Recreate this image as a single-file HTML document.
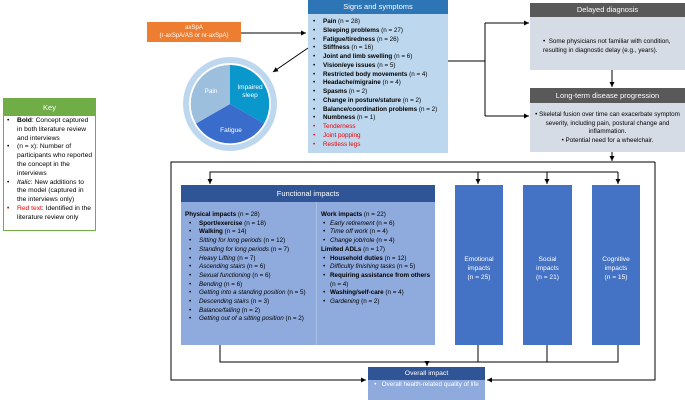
<!DOCTYPE html>
<html><head><meta charset="utf-8"><style>
*{margin:0;padding:0;box-sizing:border-box}
body{width:685px;height:400px;position:relative;background:#fff;font-family:"Liberation Sans",sans-serif;overflow:hidden;color:#000}
.a{position:absolute}
.hd{color:#fff;text-align:center;font-size:7.5px}
ul{list-style:none}
li{position:relative;padding-left:12px}
li:before{content:"•";position:absolute;left:2px}
.r{color:#e00}
.t{font-size:6.3px;line-height:8.75px}
</style></head><body>
<svg class="a" style="left:0;top:0" width="685" height="400">
<defs><marker id="m" markerWidth="6" markerHeight="6" refX="5" refY="3" orient="auto" markerUnits="userSpaceOnUse"><path d="M0,0.5L5,3L0,5.5z" fill="#000"/></marker></defs>
<g stroke="#000" stroke-width="1" fill="none">
<path d="M241,33H306" marker-end="url(#m)"/>
<path d="M308,48L273,72" marker-end="url(#m)"/>
<path d="M448,61H485"/>
<path d="M485,23V116"/>
<path d="M485,23H529" marker-end="url(#m)"/>
<path d="M485,116H529" marker-end="url(#m)"/>
<path d="M612,70V87" marker-end="url(#m)"/>
<path d="M612,152V161" marker-end="url(#m)"/>
<path d="M655,162H171V380H366" marker-end="url(#m)"/>
<path d="M655,162V380H487" marker-end="url(#m)"/>
<path d="M618,172H210V184" marker-end="url(#m)"/>
<path d="M478,172V184" marker-end="url(#m)"/>
<path d="M547,172V184" marker-end="url(#m)"/>
<path d="M618,172V184" marker-end="url(#m)"/>
<path d="M220,345V362H618V345"/>
<path d="M478,345V362M547,345V362"/>
<path d="M427,362V366" marker-end="url(#m)"/>
</g>
<circle cx="230" cy="104" r="47" fill="#bdd7ee"/>
<circle cx="230" cy="104" r="41" fill="#fff"/>
<path d="M230,104L230,65A39,39 0 0 1 264,123.5Z" fill="#0a97cc"/>
<path d="M230,104L264,123.5A39,39 0 0 1 196,123.5Z" fill="#3a6ccc"/>
<path d="M230,104L196,123.5A39,39 0 0 1 230,65Z" fill="#9dbfde"/>
<text x="211" y="93" fill="#fff" font-size="6.5" font-family="Liberation Sans" text-anchor="middle">Pain</text>
<text x="250" y="89" fill="#fff" font-size="6.5" font-family="Liberation Sans" text-anchor="middle">Impaired</text>
<text x="250" y="97" fill="#fff" font-size="6.5" font-family="Liberation Sans" text-anchor="middle">sleep</text>
<text x="231" y="132" fill="#fff" font-size="6.5" font-family="Liberation Sans" text-anchor="middle">Fatigue</text>
</svg>

<div class="a" style="left:3px;top:98px;width:93px;height:133px;border:1px solid #70ad47;background:#fff">
<div class="hd" style="background:#70ad47;height:17px;line-height:17px">Key</div>
<ul style="padding:1px 1px 0 1px;font-size:6.7px;line-height:8.8px"><li><b>Bold</b>: Concept captured in both literature review and interviews</li><li>(n = x): Number of participants who reported the concept in the interviews</li><li><i>Italic</i>: New additions to the model (captured in the interviews only)</li><li><span class="r" style="position:absolute;left:2px">•</span><span class="r">Red text</span>: Identified in the literature review only</li></ul>
</div>

<div class="a hd" style="left:147px;top:22px;width:94px;height:20px;background:#ed7d31;font-size:6px;line-height:8px;padding-top:2px">axSpA<br>(r-axSpA/AS or nr-axSpA)</div>

<div class="a" style="left:308px;top:0;width:140px;height:153px;background:#bdd7ee">
<div class="hd" style="background:#2e75b6;height:14px;line-height:14px">Signs and symptoms</div>
<ul class="t" style="padding:4px 0 0 3px"><li><b>Pain</b> (n = 28)</li><li><b>Sleeping problems</b> (n = 27)</li><li><b>Fatigue/tiredness</b> (n = 26)</li><li><b>Stiffness</b> (n = 16)</li><li><b>Joint and limb swelling</b> (n = 6)</li><li><b>Vision/eye issues</b> (n = 5)</li><li><b>Restricted body movements</b> (n = 4)</li><li><b>Headache/migraine</b> (n = 4)</li><li><b>Spasms</b> (n = 2)</li><li><b>Change in posture/stature</b> (n = 2)</li><li><b>Balance/coordination problems</b> (n = 2)</li><li><b>Numbness</b> (n = 1)</li><li class="r">Tenderness</li><li class="r">Joint popping</li><li class="r">Restless legs</li></ul>
</div>

<div class="a" style="left:530px;top:3px;width:155px;height:67px;background:#d6dce5">
<div class="hd" style="background:#595959;height:14px;line-height:14px">Delayed diagnosis</div>
<div class="t" style="padding:21px 4px 0 13px;line-height:8.7px">•&nbsp; Some physicians not familiar with condition, resulting in diagnostic delay (e.g., years).</div>
</div>

<div class="a" style="left:530px;top:88px;width:155px;height:64px;background:#d6dce5">
<div class="hd" style="background:#595959;height:15px;line-height:15px">Long-term disease progression</div>
<div class="t" style="padding:8px 4px 0 4px;line-height:8.7px;text-align:center">• Skeletal fusion over time can exacerbate symptom severity, including pain, postural change and inflammation.<br>• Potential need for a wheelchair.</div>
</div>

<div class="a" style="left:181px;top:185px;width:254px;height:160px;background:#8faadc">
<div class="hd" style="background:#2f5597;height:17px;line-height:17px">Functional impacts</div>
<div class="a" style="left:135px;top:17px;width:1px;height:143px;background:#a9bfe6"></div>
<div class="a t" style="left:4px;top:26px;width:132px;line-height:8.7px"><b>Physical impacts</b> (n = 28)
<ul style="margin-left:2px"><li><b>Sport/exercise</b> (n = 18)</li><li><b>Walking</b> (n = 14)</li><li><i>Sitting for long periods</i> (n = 12)</li><li><i>Standing for long periods</i> (n = 7)</li><li><i>Heavy Lifting</i> (n = 7)</li><li><i>Ascending stairs</i> (n = 6)</li><li><i>Sexual functioning</i> (n = 6)</li><li><i>Bending</i> (n = 6)</li><li><i>Getting into a standing position</i> (n = 5)</li><li><i>Descending stairs</i> (n = 3)</li><li><i>Balance/falling</i> (n = 2)</li><li><i>Getting out of a sitting position</i> (n = 2)</li></ul></div>
<div class="a t" style="left:140px;top:26px;width:114px;line-height:8.7px"><b>Work impacts</b> (n = 22)
<ul><li style="padding-left:9px"><i>Early retirement</i> (n = 6)</li><li style="padding-left:9px"><i>Time off work</i> (n = 4)</li><li style="padding-left:9px"><i>Change job/role</i> (n = 4)</li></ul><b>Limited ADLs</b> (n = 17)
<ul><li style="padding-left:9px"><b>Household duties</b> (n = 12)</li><li style="padding-left:9px"><i>Difficulty finishing tasks</i> (n = 5)</li><li style="padding-left:9px"><b>Requiring assistance from others</b> (n = 4)</li><li style="padding-left:9px"><b>Washing/self-care</b> (n = 4)</li><li style="padding-left:9px"><i>Gardening</i> (n = 2)</li></ul></div>
</div>

<div class="a hd t" style="left:455px;top:185px;width:48px;height:160px;background:#4472c4;padding-top:70px;line-height:9px;font-size:6.6px">Emotional<br>impacts<br>(n = 25)</div>
<div class="a hd t" style="left:523px;top:185px;width:49px;height:160px;background:#4472c4;padding-top:70px;line-height:9px;font-size:6.6px">Social<br>impacts<br>(n = 21)</div>
<div class="a hd t" style="left:592px;top:185px;width:48px;height:160px;background:#4472c4;padding-top:70px;line-height:9px;font-size:6.6px">Cognitive<br>impacts<br>(n = 15)</div>

<div class="a" style="left:368px;top:367px;width:117px;height:33px;background:#8faadc">
<div class="hd" style="background:#2f5597;height:13px;line-height:13px;font-size:6.8px">Overall impact</div>
<div class="t" style="color:#fff;text-align:center;padding:1px 4px 0 4px;line-height:8.5px">•&nbsp;&nbsp; Overall health-related quality of life</div>
</div>
</body></html>
